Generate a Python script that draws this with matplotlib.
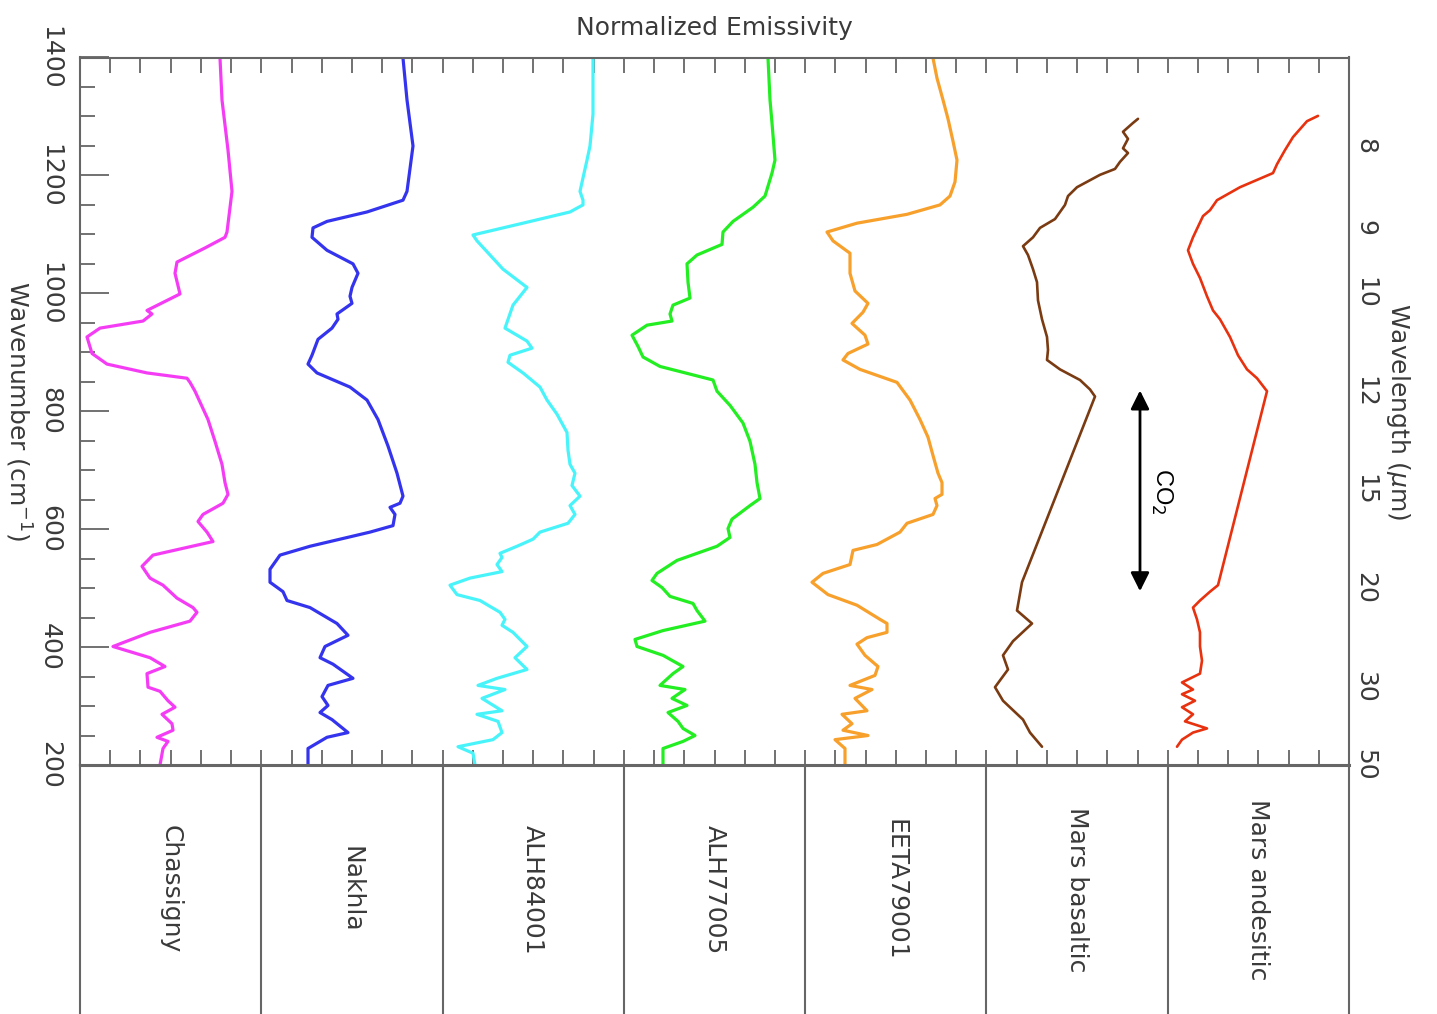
import numpy as np
import matplotlib
matplotlib.use('Agg')
import matplotlib.pyplot as plt

# spectra: wavenumber (cm-1) and offset emissivity (arbitrary units, stacked)
chassigny_wn = [1399, 1328, 1243, 1173, 1104, 1095, 1077, 1053, 1034, 999, 971, 965, 953, 941, 926,
                898, 880, 865, 856, 849, 834, 786, 749, 710, 679, 659, 644, 625, 613, 595, 579, 556,
                537, 517, 505, 483, 467, 459, 444, 425, 401, 382, 367, 355, 332, 325, 309, 298, 286,
                270, 259, 247, 240, 228, 200]
chassigny_em = [140, 142, 148, 152, 147, 145, 125, 97, 95, 100, 67, 72, 63, 20, 7,
                12, 27, 67, 107, 110, 115, 128, 135, 142, 145, 148, 143, 123, 118, 127, 133, 73,
                62, 70, 83, 97, 113, 117, 110, 70, 33, 70, 85, 67, 68, 80, 88, 95, 82,
                92, 93, 77, 88, 83, 80]

nakhla_wn = [1399, 1328, 1250, 1173, 1158, 1138, 1122, 1111, 1095, 1073, 1050, 1034, 1010, 995, 983,
             965, 956, 941, 922, 895, 880, 865, 841, 819, 786, 741, 695, 656, 644, 637, 625, 606,
             595, 571, 556, 532, 510, 494, 479, 467, 440, 420, 401, 382, 371, 347, 335, 316, 301,
             289, 277, 255, 247, 228, 200]
nakhla_em = [323, 327, 333, 327, 323, 287, 247, 233, 232, 247, 273, 278, 272, 270, 272,
             257, 258, 252, 238, 232, 228, 237, 270, 287, 298, 308, 317, 323, 320, 310, 315, 313,
             290, 230, 200, 190, 190, 203, 207, 230, 257, 268, 245, 240, 253, 273, 248, 242, 248,
             240, 252, 268, 247, 228, 228]

alh84001_wn = [1399, 1304, 1250, 1226, 1173, 1158, 1150, 1138, 1119, 1099, 1089, 1065, 1041, 1010, 980,
               941, 919, 907, 895, 883, 865, 841, 819, 795, 764, 734, 710, 695, 674, 656, 640, 625,
               610, 595, 583, 571, 559, 552, 540, 528, 517, 505, 489, 479, 459, 447, 437, 425, 401,
               382, 362, 347, 335, 328, 313, 292, 286, 274, 255, 243, 231, 220, 200]
alh84001_em = [513, 513, 510, 507, 500, 503, 503, 490, 443, 393, 397, 410, 423, 447, 433,
               425, 447, 452, 430, 428, 443, 460, 467, 477, 487, 488, 490, 495, 492, 500, 490, 495,
               488, 460, 453, 437, 420, 422, 417, 422, 390, 370, 377, 400, 420, 425, 422, 433, 447,
               435, 447, 417, 398, 425, 402, 422, 397, 418, 422, 413, 378, 393, 395]

alh77005_wn = [1399, 1328, 1289, 1226, 1204, 1165, 1146, 1122, 1104, 1083, 1065, 1050, 1019, 992, 980,
               965, 953, 946, 929, 910, 892, 876, 853, 834, 810, 780, 749, 710, 679, 652, 640, 617,
               601, 586, 571, 547, 525, 513, 501, 486, 474, 462, 444, 428, 413, 401, 386, 367, 355,
               335, 328, 313, 301, 289, 274, 262, 250, 240, 228, 200]
alh77005_em = [688, 690, 692, 695, 692, 685, 673, 653, 643, 642, 617, 607, 608, 610, 593,
               590, 592, 567, 552, 558, 563, 580, 633, 637, 650, 663, 670, 675, 677, 680, 670, 652,
               648, 650, 637, 597, 577, 572, 582, 590, 613, 617, 625, 583, 555, 557, 583, 603, 593,
               580, 605, 592, 607, 588, 598, 603, 615, 603, 583, 583]

eeta79001_wn = [1399, 1365, 1328, 1296, 1258, 1226, 1189, 1165, 1150, 1134, 1119, 1104, 1089, 1068, 1034,
                1004, 983, 968, 949, 929, 914, 898, 887, 871, 849, 819, 786, 756, 725, 695, 679, 659,
                652, 640, 625, 610, 595, 574, 564, 556, 540, 525, 510, 489, 471, 447, 440, 425, 416,
                405, 386, 367, 352, 335, 328, 313, 292, 286, 270, 259, 250, 243, 228, 200]
eeta79001_em = [853, 857, 863, 868, 873, 877, 875, 870, 860, 827, 777, 747, 753, 770, 770,
                775, 788, 783, 772, 785, 788, 768, 763, 780, 817, 830, 840, 848, 853, 858, 862, 862,
                855, 857, 853, 827, 820, 797, 773, 772, 770, 743, 732, 748, 777, 800, 807, 807, 787,
                777, 785, 798, 795, 770, 792, 775, 787, 762, 772, 763, 788, 755, 765, 765]

basaltic_wn = [1296, 1289, 1274, 1262, 1246, 1238, 1223, 1211, 1201, 1180, 1165, 1150, 1126, 1111, 1095,
               1080, 1065, 1041, 1019, 988, 956, 926, 904, 887, 871, 853, 837, 825, 510, 462, 440,
               410, 386, 362, 332, 309, 277, 255, 231]
basaltic_em = [1058, 1053, 1043, 1048, 1043, 1048, 1040, 1035, 1020, 997, 988, 985, 975, 960, 953,
               943, 948, 953, 957, 958, 962, 967, 968, 967, 980, 1000, 1010, 1015, 942, 937, 952,
               933, 923, 928, 915, 923, 943, 950, 962]

andesitic_wn = [1301, 1292, 1265, 1243, 1219, 1204, 1180, 1158, 1141, 1131, 1095, 1073, 1050, 1026, 995,
                971, 956, 926, 895, 871, 856, 834, 505, 494, 479, 467, 447, 425, 401, 377, 355,
                340, 328, 320, 309, 298, 286, 274, 262, 255, 243, 231]
andesitic_em = [1238, 1227, 1213, 1205, 1197, 1193, 1160, 1137, 1130, 1123, 1113, 1108, 1113, 1120, 1127,
                1133, 1140, 1150, 1158, 1167, 1177, 1187, 1138, 1130, 1120, 1113, 1117, 1120, 1120, 1122, 1120,
                1102, 1113, 1102, 1115, 1102, 1113, 1105, 1127, 1113, 1102, 1097]

names = ['Chassigny', 'Nakhla', 'ALH84001', 'ALH77005', 'EETA79001', 'Mars basaltic', 'Mars andesitic']
colors = ['#f53cf5', '#3434ee', '#48f4fa', '#22ee22', '#f8a02c', '#7a3b12', '#e8320f']

wn_ticks = [1400, 1200, 1000, 800, 600, 400, 200]
wavelength_ticks = [8, 9, 10, 12, 15, 20, 30, 50]
co2_band = [840, 490]

spectra = [(chassigny_wn, chassigny_em), (nakhla_wn, nakhla_em), (alh84001_wn, alh84001_em),
           (alh77005_wn, alh77005_em), (eeta79001_wn, eeta79001_em), (basaltic_wn, basaltic_em),
           (andesitic_wn, andesitic_em)]

W, H = 1437, 1014
grey = '#666666'
tcol = '#3a3a3a'
fs = 18

fig = plt.figure(figsize=(W / 100, H / 100), dpi=100)
ax = fig.add_axes([80 / W, 1 - 765 / H, 1269 / W, 707.5 / H])
xmax = 1269
ax.set_xlim(0, xmax)
ax.set_ylim(200, 1400)

for (wn, em), c in zip(spectra, colors):
    lw = 1.9 if c in ('#7a3b12', '#e8320f') else 2.3
    ax.plot(em, wn, color=c, lw=lw, solid_joinstyle='round', solid_capstyle='round')

# x ticks top and bottom, no labels
ax.set_xticks(np.linspace(0, xmax, 43))
ax.tick_params(axis='x', which='both', direction='in', top=True, bottom=True,
               labelbottom=False, length=11, width=1.3, color=grey)
ax.set_yticks(wn_ticks)
ax.set_yticks(np.arange(200, 1401, 50), minor=True)
ax.set_yticklabels([str(t) for t in wn_ticks], rotation=270, va='center', ha='center',
                   fontsize=fs, color=tcol)
ax.tick_params(axis='y', which='major', direction='in', left=True, right=True,
               length=21, width=1.3, color=grey, pad=21.5)
ax.tick_params(axis='y', which='minor', direction='in', left=True, right=True,
               length=11, width=1.3, color=grey)
for s in ax.spines.values():
    s.set_color(grey)
    s.set_linewidth(1.5)
ax.spines['bottom'].set_linewidth(2.2)

ax.text(-62 / xmax, 0.5, 'Wavenumber (cm$^{-1}$)', rotation=270, ha='center', va='center',
        fontsize=fs, color=tcol, transform=ax.transAxes)
ax.set_title('Normalized Emissivity', fontsize=fs, color=tcol, pad=16)

# wavelength labels on the right
ax2 = ax.twinx()
ax2.set_ylim(200, 1400)
ax2.set_yticks([10000 / l for l in wavelength_ticks])
ax2.set_yticklabels([str(l) for l in wavelength_ticks], rotation=270, va='center', ha='left',
                    fontsize=fs, color=tcol)
ax2.tick_params(axis='y', length=0, pad=3)
ax2.text(1 + 49 / xmax, 0.5, 'Wavelength ($\\mu$m)', rotation=270, ha='center', va='center',
         fontsize=fs, color=tcol, transform=ax2.transAxes)
for s in ax2.spines.values():
    s.set_visible(False)

# CO2 band arrow
ax.annotate('', xy=(1060, co2_band[0]), xytext=(1060, co2_band[1]),
            arrowprops=dict(arrowstyle='<|-|>', color='black', lw=2, mutation_scale=28))
ax.text(1082, sum(co2_band) / 2, 'CO$_2$', rotation=270, ha='center', va='center',
        fontsize=17, color='black', family='Liberation Sans')

# sample name boxes below
axb = fig.add_axes([80 / W, 0, 1269 / W, 1 - 765 / H])
axb.set_xlim(0, xmax)
axb.set_ylim(0, 1)
axb.set_xticks([])
axb.set_yticks([])
axb.patch.set_alpha(0)
for k in ['top', 'bottom']:
    axb.spines[k].set_visible(False)
for k in ['left', 'right']:
    axb.spines[k].set_color(grey)
    axb.spines[k].set_linewidth(1.5)
step = xmax / len(names)
for i, name in enumerate(names):
    if i > 0:
        axb.axvline(i * step, color=grey, lw=1.5)
    axb.text((i + 0.5) * step, 0.5, name, rotation=270, ha='center', va='center',
             fontsize=fs, color=tcol)

fig.savefig('out.png', dpi=100)
